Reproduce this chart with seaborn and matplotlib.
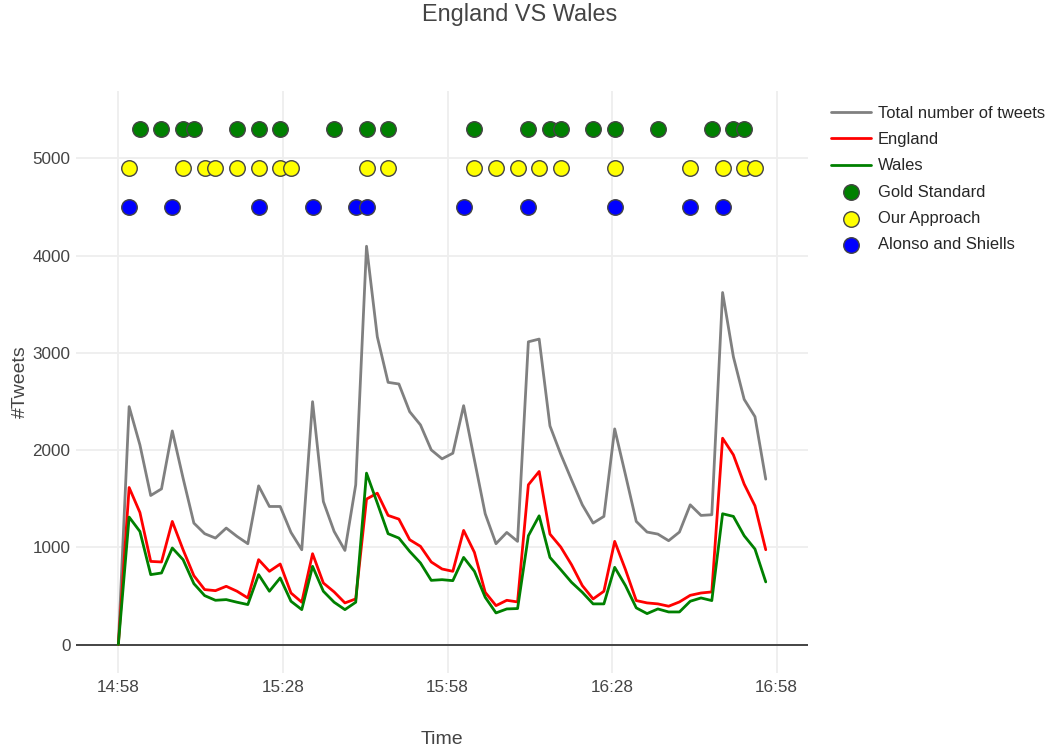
import pandas as pd
import numpy as np
import matplotlib
matplotlib.use('Agg')
import matplotlib.pyplot as plt
import matplotlib.dates as mdates
import seaborn as sns

# tweet counts per time bin (61 bins, 14:58 -> 16:56)
times = pd.date_range('2015-01-01 14:58:00', '2015-01-01 16:56:00', periods=61)
total = [0, 2447, 2053, 1533, 1601, 2197, 1711, 1249, 1140, 1095,
         1198, 1112, 1037, 1632, 1420, 1420, 1153, 975, 2498, 1471,
         1163, 968, 1643, 4097, 3166, 2697, 2680, 2395, 2259, 2002,
         1910, 1968, 2457, 1899, 1345, 1037, 1153, 1061, 3114, 3142,
         2249, 1958, 1694, 1437, 1249, 1318, 2218, 1745, 1266, 1157,
         1136, 1068, 1157, 1437, 1328, 1335, 3621, 2960, 2522, 2344,
         1701]
england = [0, 1615, 1358, 855, 849, 1266, 975, 708, 565, 554,
           599, 548, 479, 873, 753, 828, 530, 435, 934, 633,
           541, 428, 469, 1496, 1557, 1328, 1290, 1078, 1010, 849,
           777, 753, 1174, 948, 537, 400, 455, 438, 1643, 1780,
           1136, 1003, 821, 606, 469, 548, 1061, 770, 452, 428,
           418, 394, 438, 506, 530, 541, 2122, 1951, 1650, 1427,
           975]
wales = [0, 1311, 1163, 719, 736, 993, 873, 626, 503, 455,
         462, 435, 411, 719, 548, 685, 445, 359, 804, 548,
         435, 359, 435, 1763, 1455, 1140, 1095, 958, 839, 660,
         667, 657, 896, 753, 486, 325, 366, 370, 1119, 1324,
         896, 770, 640, 537, 418, 418, 794, 606, 377, 318,
         366, 335, 335, 445, 479, 452, 1345, 1318, 1119, 982,
         644]

# detected events (bin index) and the level each method is drawn at
gold_idx = [2, 4, 6, 7, 11, 13, 15, 20, 23, 25, 33, 38, 40, 41, 44, 46, 50, 55, 57, 58]
ours_idx = [1, 6, 8, 9, 11, 13, 15, 16, 23, 25, 33, 35, 37, 39, 41, 46, 53, 56, 58, 59]
alonso_idx = [1, 5, 13, 18, 22, 23, 32, 38, 46, 53, 56]
gold_level, ours_level, alonso_level = 5300, 4900, 4500

sns.set_style('white')
plt.rcParams['font.family'] = ['Liberation Sans', 'DejaVu Sans']
txt = '#444444'

fig = plt.figure(figsize=(10.48, 7.56), dpi=100)
ax = fig.add_axes([76 / 1048, 83 / 756, 732 / 1048, 582 / 756])

sns.lineplot(x=times, y=total, color='grey', lw=2.0, label='Total number of tweets', ax=ax)
sns.lineplot(x=times, y=england, color='red', lw=2.0, label='England', ax=ax)
sns.lineplot(x=times, y=wales, color='green', lw=2.0, label='Wales', ax=ax)

for idx, level, col, name in [(gold_idx, gold_level, 'green', 'Gold Standard'),
                              (ours_idx, ours_level, 'yellow', 'Our Approach'),
                              (alonso_idx, alonso_level, 'blue', 'Alonso and Shiells')]:
    sns.scatterplot(x=times[idx], y=[level] * len(idx), color=col, s=125,
                    edgecolor='#444444', linewidth=1.0, label=name, ax=ax, zorder=5)

ax.axhline(0, color='#444444', lw=1.4, zorder=1)
ax.set_ylim(-293, 5694)
ax.set_xlim(pd.Timestamp('2015-01-01 14:50:17'), pd.Timestamp('2015-01-01 17:03:42'))
ax.xaxis.set_major_locator(mdates.MinuteLocator(byminute=[28, 58]))
ax.xaxis.set_major_formatter(mdates.DateFormatter('%H:%M'))
ax.set_yticks([0, 1000, 2000, 3000, 4000, 5000])
ax.grid(True, color='#eeeeee', lw=1.3, zorder=0)
ax.set_axisbelow(True)
for s in ax.spines.values():
    s.set_visible(False)
ax.tick_params(length=0, labelsize=12.3, colors=txt)
ax.tick_params(axis='x', pad=5)
ax.tick_params(axis='y', pad=4)

ax.set_xlabel('Time', fontsize=14, color=txt)
ax.set_ylabel('#Tweets', fontsize=14, color=txt)
ax.xaxis.set_label_coords(0.5, -0.1)
ax.yaxis.set_label_coords(-0.064, 0.5)

fig.suptitle('England VS Wales', x=0.496, y=1 - 15 / 756, va='center', fontsize=16.9, color=txt)

ax.legend(loc='upper left', bbox_to_anchor=(831 / 1048, 1 - 106 / 756), bbox_transform=fig.transFigure,
          frameon=False, fontsize=11.9, handlelength=2.45, handletextpad=0.4, labelspacing=0.68,
          borderpad=0, borderaxespad=0, markerscale=1.0)

fig.savefig('out.png', dpi=100)
